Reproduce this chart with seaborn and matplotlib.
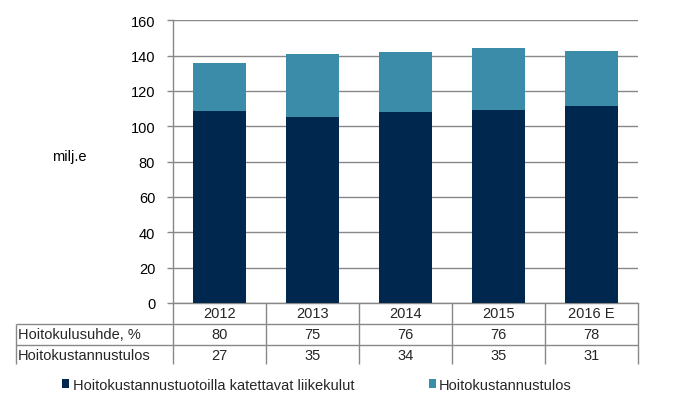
import matplotlib
matplotlib.use("Agg")
import matplotlib.pyplot as plt
import matplotlib.transforms as mtransforms
from matplotlib.patches import Patch
import seaborn as sns
import pandas as pd

# ---- data ----
years = ["2012", "2013", "2014", "2015", "2016 E"]
liikekulut = [108.7, 105.3, 108.2, 109.3, 111.6]      # Hoitokustannustuotoilla katettavat liikekulut
tulos = [27.2, 35.7, 33.9, 35.1, 31.1]                  # Hoitokustannustulos
row_labels = ["Hoitokulusuhde, %", "Hoitokustannustulos"]
hoitokulusuhde = ["80", "75", "76", "76", "78"]
hoitokustannustulos = ["27", "35", "34", "35", "31"]
series_names = ["Hoitokustannustuotoilla katettavat liikekulut", "Hoitokustannustulos"]

NAVY = "#00274d"
TEAL = "#3a8ca9"
GRID = "#888888"

sns.set_theme(style="white")
plt.rcParams["font.family"] = ["Liberation Sans", "DejaVu Sans"]
FS = 10.5

df = pd.DataFrame({"year": years, "dark": liikekulut,
                   "total": [a + b for a, b in zip(liikekulut, tulos)]})

fig = plt.figure(figsize=(6.85, 4.02), dpi=100)
W, H = 685, 402
x0, x1, y0, y1 = 173.3, 637.7, 21.3, 304.0
ax = fig.add_axes([x0 / W, 1 - y1 / H, (x1 - x0) / W, (y1 - y0) / H])

sns.barplot(data=df, x="year", y="total", color=TEAL, saturation=1, width=0.57,
            edgecolor="none", linewidth=0, ax=ax, zorder=2)
sns.barplot(data=df, x="year", y="dark", color=NAVY, saturation=1, width=0.57,
            edgecolor="none", linewidth=0, ax=ax, zorder=3)

ax.set_xlim(-0.5, len(years) - 0.5)
ax.set_ylim(0, 160)
ax.set_yticks(range(0, 161, 20))
ax.set_xlabel("")
ax.set_ylabel("")
ax.set_xticks([])
ax.yaxis.grid(True, color=GRID, linewidth=1)
ax.set_axisbelow(True)
for s in ["top", "right"]:
    ax.spines[s].set_visible(False)
for s in ["left", "bottom"]:
    ax.spines[s].set_color(GRID)
    ax.spines[s].set_linewidth(1)
ax.tick_params(axis="y", which="both", left=True, length=4, width=1, color=GRID,
               pad=9, labelsize=FS, labelcolor="black")

ax.text(-0.2246, 0.52, "milj.e", transform=ax.transAxes, ha="center", va="center",
        fontsize=FS, color="black")

# ---- data table under the axis ----
blend = mtransforms.blended_transform_factory(ax.transData, ax.transAxes)
row_h = 21.0 / (y1 - y0)
y_r1 = -row_h
y_r2 = -2 * row_h
y_bot = -61.0 / (y1 - y0)
left_edge = (15.7 - x0) / (x1 - x0)
lkw = dict(color=GRID, linewidth=1, clip_on=False, solid_capstyle="butt")
for k in range(len(years) + 1):
    ax.plot([k - 0.5, k - 0.5], [0, y_bot], transform=blend, **lkw)
ax.plot([left_edge, left_edge], [y_r1, y_bot], transform=ax.transAxes, **lkw)
for yy in (y_r1, y_r2):
    ax.plot([left_edge, 1.0], [yy, yy], transform=ax.transAxes, **lkw)

for i, yr in enumerate(years):
    ax.text(i, -0.5 * row_h, yr, transform=blend, ha="center", va="center", fontsize=FS)
    ax.text(i, -1.5 * row_h, hoitokulusuhde[i], transform=blend, ha="center", va="center", fontsize=FS)
    ax.text(i, -2.5 * row_h, hoitokustannustulos[i], transform=blend, ha="center", va="center", fontsize=FS)
lab_x = (18.0 - x0) / (x1 - x0)
ax.text(lab_x, -1.5 * row_h, row_labels[0], transform=ax.transAxes, ha="left", va="center", fontsize=FS)
ax.text(lab_x, -2.5 * row_h, row_labels[1], transform=ax.transAxes, ha="left", va="center", fontsize=FS)

handles = [Patch(facecolor=NAVY, edgecolor="none", label=series_names[0]),
           Patch(facecolor=TEAL, edgecolor="none", label=series_names[1])]
fig.legend(handles=handles, loc="center left", bbox_to_anchor=(62 / W, 1 - 385.7 / H),
           ncol=2, frameon=False, borderpad=0, borderaxespad=0, handlelength=0.51,
           handleheight=0.51, handletextpad=0.22, columnspacing=5.1, fontsize=FS)

fig.savefig("out.png", dpi=100)
